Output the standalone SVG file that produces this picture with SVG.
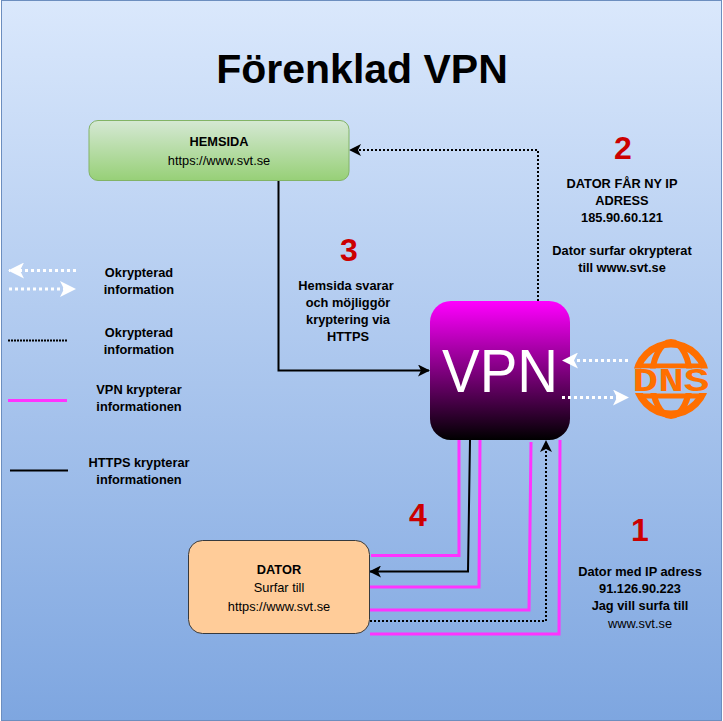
<svg xmlns="http://www.w3.org/2000/svg" width="723" height="721" viewBox="0 0 723 721">
<style>
text{font-family:"Liberation Sans",Arial,sans-serif;fill:#000;text-anchor:middle}
.b{font-size:12.800px;font-weight:700}
.n{font-size:12.800px}
.num{font-size:32px;font-weight:700;fill:#c00}
.pk{fill:none;stroke:#ff33ff;stroke-width:3}
.bk{fill:none;stroke:#000;stroke-width:2}
.dk{fill:none;stroke:#000;stroke-width:2;stroke-dasharray:2 2}
.wh{fill:none;stroke:#fff;stroke-width:3;stroke-dasharray:3 3}
</style>
<defs>
<linearGradient id="bg" x1="0" y1="0" x2="0" y2="1"><stop offset="0" stop-color="#dae8fc"/><stop offset="1" stop-color="#7ea6e0"/></linearGradient>
<linearGradient id="gr" x1="0" y1="0" x2="0" y2="1"><stop offset="0" stop-color="#d5e8d4"/><stop offset="1" stop-color="#97d077"/></linearGradient>
<linearGradient id="vp" x1="0" y1="0" x2="0" y2="1"><stop offset="0" stop-color="#ff00ff"/><stop offset="1" stop-color="#000"/></linearGradient>
<marker id="ab" viewBox="0 0 12 12" refX="11" refY="6" markerWidth="12" markerHeight="12" markerUnits="userSpaceOnUse" orient="auto"><path d="M0 0L12 6L0 12L3 6Z" fill="#000"/></marker>
<marker id="aw" viewBox="0 0 16 16" refX="15" refY="8" markerWidth="16" markerHeight="16" markerUnits="userSpaceOnUse" orient="auto"><path d="M0 0L16 8L0 16L4 8Z" fill="#fff"/></marker>
<clipPath id="gc"><path d="M620 330H723V368.500H620ZM620 393H723V425H620Z"/></clipPath>
</defs>
<rect id="background" x="1.500" y="0.500" width="720" height="720" fill="url(#bg)" stroke="#6c8ebf"/>
<text x="362" y="83" style="font-size:41px;font-weight:700">Förenklad VPN</text>
<g id="vpn">
<rect x="430" y="301" width="140" height="139" rx="21" fill="url(#vp)"/>
<text x="500" y="392" textLength="116" lengthAdjust="spacingAndGlyphs" style="font-size:62px;fill:#fff">VPN</text>
</g>
<g id="connectors">
<path class="dk" d="M538 301V150H350" marker-end="url(#ab)"/>
<path class="bk" d="M278.500 181V370.500H429" marker-end="url(#ab)"/>
<path class="bk" d="M470 440L468 571.500H370" marker-end="url(#ab)"/>
<path class="pk" d="M459 440V555.500H371"/>
<path class="pk" d="M480 440L479 587H369"/>
<path class="pk" d="M531 442L529 610H369"/>
<path class="dk" d="M370 621H546V441" marker-end="url(#ab)"/>
<path class="pk" d="M560 440L559 634H370"/>
<path class="wh" d="M628 360.500H563" marker-end="url(#aw)"/>
<path class="wh" d="M562 397.500H628" marker-end="url(#aw)"/>
</g>
<g id="legend">
<path class="wh" d="M76 270.500H9" marker-end="url(#aw)"/>
<path class="wh" d="M9 289H75" marker-end="url(#aw)"/>
<path d="M8 340.500H67" fill="none" stroke="#000" stroke-width="2" stroke-dasharray="2 1"/>
<path d="M8 400.500H67" class="pk"/>
<path d="M10 470.500H68" class="bk"/>
<text class="b" x="139" y="277">Okrypterad</text><text class="b" x="139" y="294">information</text>
<text class="b" x="139" y="337">Okrypterad</text><text class="b" x="139" y="354">information</text>
<text class="b" x="139" y="394">VPN krypterar</text><text class="b" x="139" y="411">informationen</text>
<text class="b" x="139" y="467">HTTPS krypterar</text><text class="b" x="139" y="484">informationen</text>
</g>
<g id="hemsida">
<rect x="89" y="120.500" width="260" height="60" rx="9" fill="url(#gr)" stroke="#82b366"/>
<text class="b" x="219" y="146">HEMSIDA</text><text class="n" x="219" y="165">https://www.svt.se</text>
</g>
<g id="dator">
<rect x="188.500" y="540.500" width="181" height="93" rx="14" fill="#ffcc99" stroke="#36393d"/>
<text class="b" x="279" y="574">DATOR</text><text class="n" x="279" y="592">Surfar till</text><text class="n" x="279" y="611">https://www.svt.se</text>
</g>
<g id="dns">
<g clip-path="url(#gc)" fill="none" stroke="#ff6f00">
<circle cx="671" cy="379" r="35" stroke-width="7"/>
<ellipse cx="671" cy="379" rx="19" ry="37" stroke-width="6"/>
<path d="M640 366H702M640 396H702" stroke-width="5"/>
</g>
<text x="671" y="391" textLength="77" lengthAdjust="spacingAndGlyphs" style="font-size:33px;font-weight:700;fill:#ff6f00;font-family:'Liberation Mono',monospace">DNS</text>
</g>
<g id="labels">
<text class="num" x="623" y="159">2</text>
<text class="b" x="622" y="188">DATOR FÅR NY IP</text><text class="b" x="622" y="205">ADRESS</text><text class="b" x="622" y="222">185.90.60.121</text>
<text class="b" x="622" y="255">Dator surfar okrypterat</text><text class="b" x="622" y="272">till www.svt.se</text>
<text class="num" x="349" y="261">3</text>
<text class="b" x="346" y="290">Hemsida svarar</text><text class="b" x="348" y="307">och möjliggör</text><text class="b" x="348" y="324">kryptering via</text><text class="b" x="348" y="341">HTTPS</text>
<text class="num" x="418" y="526">4</text>
<text class="num" x="640" y="541">1</text>
<text class="b" x="640" y="576">Dator med IP adress</text><text class="b" x="640" y="593">91.126.90.223</text><text class="b" x="640" y="610">Jag vill surfa till</text><text class="n" x="640" y="628">www.svt.se</text>
</g>
</svg>
